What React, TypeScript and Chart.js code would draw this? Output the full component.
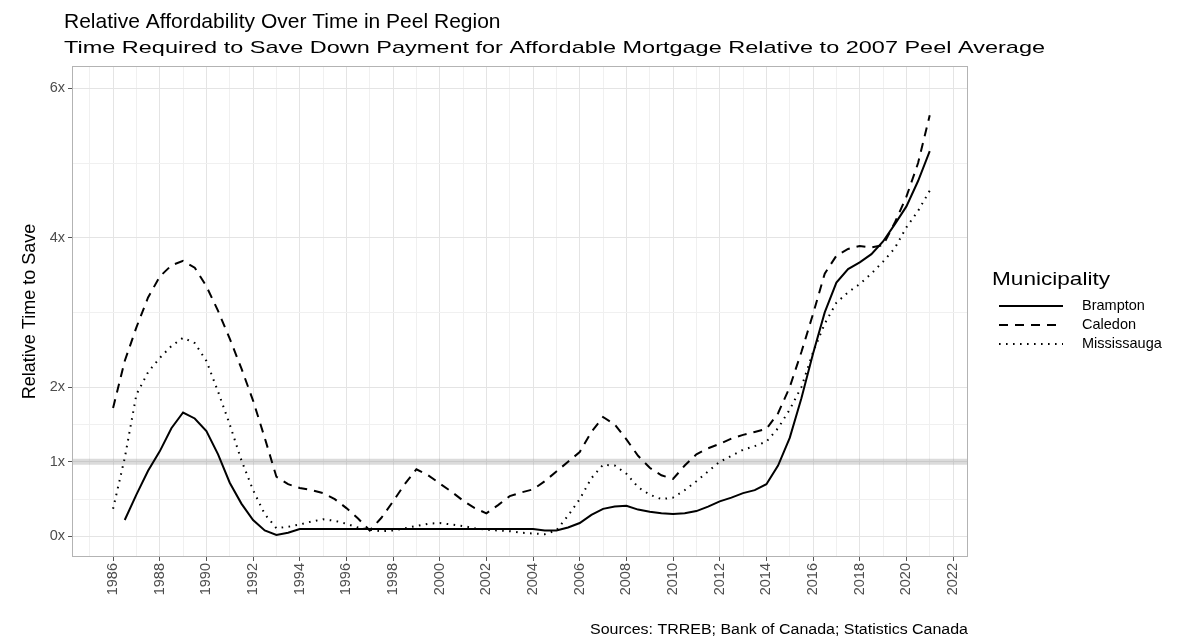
import React, { useEffect, useRef } from "react";
import { Chart, registerables } from "chart.js";

Chart.register(...registerables);

const FONT = "'Liberation Sans', Arial, sans-serif";

const titleText = "Relative Affordability Over Time in Peel Region";
const subtitleText =
  "Time Required to Save Down Payment for Affordable Mortgage Relative to 2007 Peel Average";
const yAxisTitle = "Relative Time to Save";
const captionText = "Sources: TRREB; Bank of Canada; Statistics Canada";
const legendTitle = "Municipality";

const seriesNames = ["Brampton", "Caledon", "Mississauga"];

const years = [
  1986, 1986.5, 1987, 1987.5, 1988, 1988.5, 1989, 1989.5, 1990, 1990.5,
  1991, 1991.5, 1992, 1992.5, 1993, 1993.5, 1994, 1994.5, 1995, 1995.5,
  1996, 1996.5, 1997, 1997.5, 1998, 1998.5, 1999, 1999.5, 2000, 2000.5,
  2001, 2001.5, 2002, 2002.5, 2003, 2003.5, 2004, 2004.5, 2005, 2005.5,
  2006, 2006.5, 2007, 2007.5, 2008, 2008.5, 2009, 2009.5, 2010, 2010.5,
  2011, 2011.5, 2012, 2012.5, 2013, 2013.5, 2014, 2014.5, 2015, 2015.5,
  2016, 2016.5, 2017, 2017.5, 2018, 2018.5, 2019, 2019.5, 2020, 2020.5,
  2021,
];

const brampton = [
  null, 0.22, 0.56, 0.88, 1.14, 1.45, 1.66, 1.58, 1.41, 1.1,
  0.72, 0.44, 0.22, 0.08, 0.02, 0.05, 0.1, 0.1, 0.1, 0.1,
  0.1, 0.1, 0.1, 0.1, 0.1, 0.1, 0.1, 0.1, 0.1, 0.1,
  0.1, 0.1, 0.1, 0.1, 0.1, 0.1, 0.1, 0.08, 0.08, 0.12,
  0.18, 0.29, 0.37, 0.4, 0.41, 0.36, 0.33, 0.31, 0.3, 0.31,
  0.34, 0.4, 0.47, 0.52, 0.58, 0.62, 0.7, 0.95, 1.32, 1.85,
  2.45, 3.0, 3.4, 3.58, 3.67, 3.78, 3.95, 4.18, 4.42, 4.76,
  5.16,
];

const caledon = [
  1.72, 2.35, 2.8, 3.2, 3.48, 3.63, 3.69, 3.6, 3.35, 3.02,
  2.65, 2.25, 1.82, 1.32, 0.8, 0.7, 0.65, 0.62, 0.58, 0.5,
  0.38, 0.24, 0.08, 0.25, 0.47, 0.7, 0.9, 0.82, 0.71, 0.6,
  0.48, 0.38, 0.31, 0.42, 0.54, 0.59, 0.63, 0.74, 0.87, 1.0,
  1.13, 1.4, 1.6, 1.5, 1.3, 1.08, 0.92, 0.82, 0.77, 0.95,
  1.1, 1.18, 1.24, 1.31, 1.36, 1.4, 1.44, 1.65, 2.0, 2.47,
  2.98, 3.52, 3.76, 3.85, 3.89, 3.87, 3.9, 4.2, 4.55, 5.0,
  5.64,
];

const mississauga = [
  0.37, 1.05, 1.9, 2.2, 2.39, 2.55, 2.66, 2.59, 2.35, 1.94,
  1.5, 1.02, 0.62, 0.3, 0.11, 0.13, 0.16, 0.2, 0.23, 0.21,
  0.17, 0.12, 0.09, 0.07, 0.08, 0.11, 0.14, 0.17, 0.18, 0.16,
  0.14, 0.11, 0.09, 0.08, 0.07, 0.05, 0.04, 0.03, 0.08, 0.28,
  0.5, 0.78, 0.96, 0.95, 0.84, 0.66, 0.56, 0.5, 0.52, 0.62,
  0.74, 0.87, 1.0, 1.08, 1.16, 1.21, 1.27, 1.45, 1.7, 2.0,
  2.47, 2.85, 3.13, 3.27, 3.38, 3.52, 3.68, 3.86, 4.14, 4.36,
  4.63,
];

const seriesValues = [brampton, caledon, mississauga];
const seriesDashes: number[][] = [[], [9, 7], [1.6, 5.4]];

const xGridYears = [
  1985, 1986, 1987, 1988, 1989, 1990, 1991, 1992, 1993, 1994, 1995, 1996,
  1997, 1998, 1999, 2000, 2001, 2002, 2003, 2004, 2005, 2006, 2007, 2008,
  2009, 2010, 2011, 2012, 2013, 2014, 2015, 2016, 2017, 2018, 2019, 2020,
  2021, 2022,
];
const xLabelYears = [
  1986, 1988, 1990, 1992, 1994, 1996, 1998, 2000, 2002, 2004, 2006, 2008,
  2010, 2012, 2014, 2016, 2018, 2020, 2022,
];
const yTickValues = [0, 1, 2, 4, 6];
const yMinorValues = [0.5, 1.5, 3, 5];
const referenceLevel = 1;

const X_MIN = 1984.24;
const X_MAX = 2022.64;
const Y_MIN = -0.275;
const Y_MAX = 6.3;

function drawText(
  ctx: CanvasRenderingContext2D,
  text: string,
  x: number,
  y: number,
  size: number,
  targetWidth: number | null,
  align: "left" | "right",
  baseline: CanvasTextBaseline = "alphabetic"
) {
  ctx.save();
  ctx.font = `${size}px ${FONT}`;
  ctx.textBaseline = baseline;
  ctx.textAlign = align;
  const w = ctx.measureText(text).width;
  const stretch = targetWidth ? targetWidth / w : 1;
  ctx.translate(x, y);
  ctx.scale(stretch, 1);
  ctx.fillText(text, 0, 0);
  ctx.restore();
}

const decorPlugin = {
  id: "decor",
  afterDatasetsDraw(chart: any) {
    const { ctx, chartArea } = chart;
    ctx.save();
    ctx.strokeStyle = "#b3b3b3";
    ctx.lineWidth = 1;
    ctx.strokeRect(
      chartArea.left + 0.5,
      chartArea.top + 0.5,
      chartArea.right - chartArea.left - 1,
      chartArea.bottom - chartArea.top - 1
    );
    ctx.restore();
  },
  afterDraw(chart: any) {
    const { ctx, chartArea } = chart;
    ctx.save();
    ctx.fillStyle = "#000";
    drawText(ctx, titleText, 64, 28, 21, null, "left");
    drawText(ctx, subtitleText, 64, 53, 17, 981, "left");

    // y axis title
    ctx.save();
    ctx.translate(30, (chartArea.top + chartArea.bottom) / 2);
    ctx.rotate(-Math.PI / 2);
    ctx.textAlign = "center";
    ctx.textBaseline = "middle";
    ctx.font = `18px ${FONT}`;
    ctx.fillText(yAxisTitle, 0, 0);
    ctx.restore();

    // legend
    drawText(ctx, legendTitle, 992, 285, 17.5, 118, "left");
    const rowY = [306, 325, 344];
    seriesNames.forEach((name, i) => {
      ctx.save();
      ctx.strokeStyle = "#000";
      ctx.lineWidth = 2;
      ctx.setLineDash(seriesDashes[i]);
      ctx.beginPath();
      ctx.moveTo(999, rowY[i]);
      ctx.lineTo(1063, rowY[i]);
      ctx.stroke();
      ctx.restore();
      drawText(ctx, name, 1082, rowY[i], 14.5, null, "left", "middle");
    });

    // caption
    drawText(ctx, captionText, chartArea.right, 634, 15.5, 378, "right");
    ctx.restore();
  },
};

export default function App() {
  const canvasRef = useRef<HTMLCanvasElement | null>(null);

  useEffect(() => {
    if (!canvasRef.current) return;
    const datasets: any[] = seriesNames.map((name, i) => ({
      label: name,
      data: years.map((x, j) => ({ x, y: seriesValues[i][j] })),
      borderColor: "#000",
      borderWidth: 2,
      borderDash: seriesDashes[i],
      pointRadius: 0,
      tension: 0,
      fill: false,
      spanGaps: false,
    }));
    datasets.push({
      label: "reference",
      data: [
        { x: X_MIN, y: referenceLevel },
        { x: X_MAX, y: referenceLevel },
      ],
      borderColor: "rgba(160,160,160,0.38)",
      borderWidth: 6,
      pointRadius: 0,
      fill: false,
    });

    const chart = new Chart(canvasRef.current, {
      type: "line",
      data: { datasets },
      options: {
        animation: false,
        responsive: true,
        maintainAspectRatio: false,
        layout: { padding: { top: 66, right: 214, left: 0, bottom: 0 } },
        plugins: {
          legend: { display: false },
          title: { display: false },
          tooltip: { enabled: false },
        },
        scales: {
          x: {
            type: "linear",
            min: X_MIN,
            max: X_MAX,
            afterBuildTicks: (axis: any) => {
              axis.ticks = xGridYears.map((v) => ({ value: v }));
            },
            afterFit: (axis: any) => {
              axis.height = 85;
            },
            ticks: {
              autoSkip: false,
              minRotation: 90,
              maxRotation: 90,
              padding: 2,
              color: "#4d4d4d",
              font: { family: FONT, size: 14.5 },
              callback: (v: any) => (xLabelYears.includes(Number(v)) ? String(v) : ""),
            },
            grid: {
              color: (c: any) =>
                xLabelYears.includes(c.tick?.value) ? "#e4e4e4" : "#f0f0f0",
              lineWidth: 1,
              tickLength: 4,
              tickColor: (c: any) =>
                xLabelYears.includes(c.tick?.value) ? "#555" : "rgba(0,0,0,0)",
            },
            border: { display: false },
          },
          y: {
            type: "linear",
            min: Y_MIN,
            max: Y_MAX,
            afterBuildTicks: (axis: any) => {
              axis.ticks = [...yTickValues, ...yMinorValues]
                .sort((a, b) => a - b)
                .map((v) => ({ value: v }));
            },
            afterFit: (axis: any) => {
              axis.width = 72;
            },
            ticks: {
              padding: 3,
              color: "#4d4d4d",
              font: { family: FONT, size: 14.5 },
              callback: (v: any) => (yTickValues.includes(Number(v)) ? `${v}x` : ""),
            },
            grid: {
              color: (c: any) =>
                yTickValues.includes(c.tick?.value) ? "#e4e4e4" : "#f0f0f0",
              lineWidth: 1,
              tickLength: 4,
              tickColor: (c: any) =>
                yTickValues.includes(c.tick?.value) ? "#555" : "rgba(0,0,0,0)",
            },
            border: { display: false },
          },
        },
      },
      plugins: [decorPlugin],
    });
    return () => chart.destroy();
  }, []);

  return (
    <div
      style={{
        position: "fixed",
        left: 0,
        top: 0,
        width: "1182px",
        height: "642px",
        background: "#fff",
      }}
    >
      <canvas ref={canvasRef} />
    </div>
  );
}
